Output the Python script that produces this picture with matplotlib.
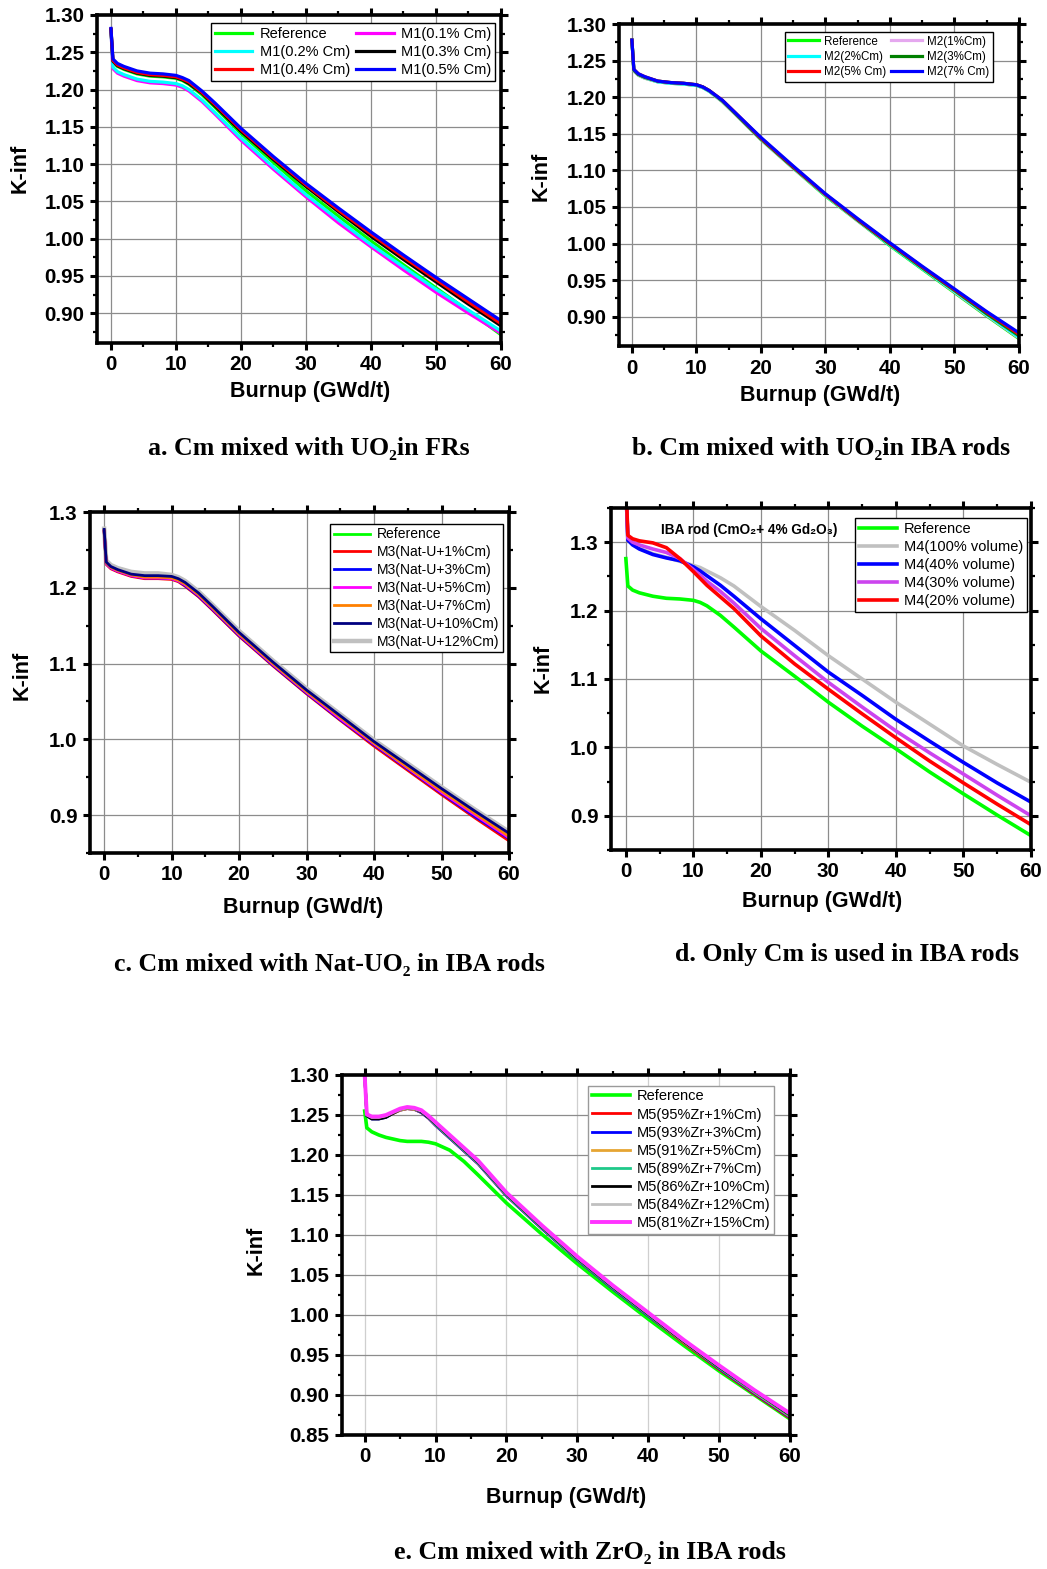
import matplotlib
matplotlib.use("Agg")
import matplotlib.pyplot as plt
from matplotlib.ticker import MultipleLocator, FormatStrFormatter

plt.rcParams['font.family'] = ['Liberation Sans', 'DejaVu Sans']

W, H = 1047, 1569

# ---------------- data ----------------
burnup = [0, 0.3, 1, 2, 4, 6, 8, 10, 11, 12, 14, 16, 20, 25, 30, 35, 40, 45, 50, 55, 60]

# a. Cm mixed with UO2 in FRs
a_labels = ["Reference", "M1(0.1% Cm)", "M1(0.2% Cm)", "M1(0.3% Cm)", "M1(0.4% Cm)", "M1(0.5% Cm)"]
a_ref = [1.280, 1.237, 1.231, 1.227, 1.221, 1.218, 1.217, 1.215, 1.212, 1.207, 1.193, 1.176, 1.141, 1.102, 1.064, 1.030, 0.997, 0.965, 0.934, 0.903, 0.871]
a_m1_01 = [1.279, 1.228, 1.222, 1.218, 1.212, 1.209, 1.208, 1.206, 1.203, 1.198, 1.184, 1.167, 1.132, 1.093, 1.056, 1.021, 0.989, 0.958, 0.928, 0.900, 0.873]
a_m1_02 = [1.279, 1.230, 1.224, 1.220, 1.214, 1.211, 1.210, 1.208, 1.205, 1.200, 1.186, 1.169, 1.135, 1.096, 1.059, 1.025, 0.992, 0.962, 0.932, 0.904, 0.876]
a_m1_03 = [1.281, 1.238, 1.232, 1.228, 1.222, 1.219, 1.218, 1.216, 1.213, 1.208, 1.195, 1.178, 1.144, 1.106, 1.070, 1.036, 1.003, 0.972, 0.942, 0.912, 0.883]
a_m1_04 = [1.281, 1.239, 1.233, 1.229, 1.223, 1.220, 1.219, 1.217, 1.214, 1.210, 1.196, 1.180, 1.146, 1.108, 1.072, 1.038, 1.006, 0.975, 0.945, 0.915, 0.886]
a_m1_05 = [1.282, 1.241, 1.235, 1.231, 1.225, 1.222, 1.221, 1.219, 1.216, 1.212, 1.198, 1.182, 1.148, 1.110, 1.074, 1.041, 1.009, 0.978, 0.948, 0.919, 0.890]

# b. Cm mixed with UO2 in IBA rods
b_labels = ["Reference", "M2(1%Cm)", "M2(2%Cm)", "M2(3%Cm)", "M2(5% Cm)", "M2(7% Cm)"]
b_ref = [1.278, 1.236, 1.230, 1.226, 1.221, 1.219, 1.218, 1.216, 1.213, 1.208, 1.194, 1.177, 1.142, 1.103, 1.065, 1.031, 0.997, 0.965, 0.933, 0.901, 0.870]
b_m2_1 = [1.278, 1.236, 1.230, 1.226, 1.221, 1.219, 1.218, 1.216, 1.213, 1.208, 1.194, 1.177, 1.142, 1.103, 1.066, 1.031, 0.998, 0.966, 0.934, 0.902, 0.871]
b_m2_2 = [1.278, 1.237, 1.231, 1.227, 1.221, 1.219, 1.218, 1.216, 1.213, 1.208, 1.195, 1.178, 1.143, 1.104, 1.066, 1.032, 0.998, 0.966, 0.935, 0.903, 0.872]
b_m2_3 = [1.278, 1.237, 1.231, 1.227, 1.222, 1.220, 1.219, 1.217, 1.214, 1.209, 1.195, 1.178, 1.143, 1.104, 1.067, 1.032, 0.999, 0.967, 0.936, 0.904, 0.874]
b_m2_5 = [1.278, 1.238, 1.232, 1.228, 1.222, 1.220, 1.219, 1.217, 1.214, 1.209, 1.196, 1.179, 1.144, 1.105, 1.067, 1.033, 1.000, 0.968, 0.937, 0.906, 0.876]
b_m2_7 = [1.278, 1.238, 1.232, 1.228, 1.222, 1.220, 1.219, 1.217, 1.214, 1.209, 1.196, 1.179, 1.145, 1.106, 1.068, 1.034, 1.001, 0.969, 0.938, 0.907, 0.878]

# c. Cm mixed with Nat-UO2 in IBA rods
c_labels = ["Reference", "M3(Nat-U+1%Cm)", "M3(Nat-U+3%Cm)", "M3(Nat-U+5%Cm)",
            "M3(Nat-U+7%Cm)", "M3(Nat-U+10%Cm)", "M3(Nat-U+12%Cm)"]
c_ref = [1.275, 1.232, 1.226, 1.222, 1.216, 1.213, 1.213, 1.212, 1.209, 1.203, 1.189, 1.172, 1.137, 1.098, 1.061, 1.026, 0.992, 0.960, 0.928, 0.897, 0.868]
c_m3_1 = [1.274, 1.231, 1.225, 1.221, 1.215, 1.212, 1.212, 1.211, 1.208, 1.202, 1.188, 1.171, 1.136, 1.097, 1.060, 1.025, 0.991, 0.959, 0.927, 0.896, 0.866]
c_m3_3 = [1.275, 1.232, 1.226, 1.222, 1.216, 1.213, 1.213, 1.212, 1.209, 1.203, 1.189, 1.172, 1.137, 1.098, 1.061, 1.026, 0.993, 0.961, 0.929, 0.898, 0.869]
c_m3_5 = [1.275, 1.232, 1.226, 1.222, 1.216, 1.213, 1.213, 1.212, 1.209, 1.204, 1.190, 1.173, 1.138, 1.099, 1.062, 1.027, 0.994, 0.962, 0.930, 0.900, 0.870]
c_m3_7 = [1.276, 1.233, 1.227, 1.223, 1.217, 1.214, 1.214, 1.213, 1.210, 1.205, 1.191, 1.174, 1.139, 1.100, 1.063, 1.029, 0.995, 0.963, 0.932, 0.902, 0.872]
c_m3_10 = [1.277, 1.234, 1.228, 1.224, 1.218, 1.216, 1.216, 1.215, 1.212, 1.207, 1.193, 1.176, 1.141, 1.102, 1.065, 1.031, 0.997, 0.966, 0.935, 0.905, 0.876]
c_m3_12 = [1.278, 1.236, 1.230, 1.226, 1.221, 1.219, 1.219, 1.217, 1.214, 1.209, 1.195, 1.178, 1.143, 1.104, 1.067, 1.033, 0.999, 0.968, 0.937, 0.907, 0.878]

# d. Only Cm is used in IBA rods
d_labels = ["Reference", "M4(100% volume)", "M4(40% volume)", "M4(30% volume)", "M4(20% volume)"]
d_ref = [1.276, 1.236, 1.230, 1.226, 1.221, 1.218, 1.217, 1.215, 1.212, 1.207, 1.193, 1.176, 1.141, 1.104, 1.066, 1.031, 0.998, 0.964, 0.932, 0.901, 0.871]
d_m4_100 = [1.380, 1.306, 1.298, 1.291, 1.283, 1.278, 1.272, 1.266, 1.263, 1.258, 1.248, 1.236, 1.206, 1.171, 1.134, 1.100, 1.066, 1.034, 1.002, 0.975, 0.949]
d_m4_40 = [1.380, 1.303, 1.296, 1.290, 1.282, 1.277, 1.273, 1.264, 1.258, 1.251, 1.237, 1.221, 1.188, 1.149, 1.110, 1.076, 1.041, 1.009, 0.978, 0.948, 0.920]
d_m4_30 = [1.380, 1.306, 1.300, 1.296, 1.290, 1.285, 1.276, 1.260, 1.252, 1.243, 1.228, 1.211, 1.174, 1.134, 1.095, 1.059, 1.024, 0.992, 0.961, 0.930, 0.900]
d_m4_20 = [1.390, 1.310, 1.305, 1.302, 1.299, 1.292, 1.276, 1.257, 1.247, 1.237, 1.220, 1.203, 1.163, 1.122, 1.085, 1.049, 1.014, 0.980, 0.948, 0.917, 0.887]

# e. Cm mixed with ZrO2 in IBA rods
burnup_e = [0, 0.3, 1, 2, 3, 4, 5, 6, 7, 8, 9, 10, 12, 14, 16, 20, 25, 30, 35, 40, 45, 50, 55, 60]
e_labels = ["Reference", "M5(95%Zr+1%Cm)", "M5(93%Zr+3%Cm)", "M5(91%Zr+5%Cm)", "M5(89%Zr+7%Cm)",
            "M5(86%Zr+10%Cm)", "M5(84%Zr+12%Cm)", "M5(81%Zr+15%Cm)"]
e_ref = [1.255, 1.234, 1.229, 1.225, 1.222, 1.220, 1.218, 1.217, 1.217, 1.217, 1.216, 1.214, 1.206, 1.192, 1.175, 1.140, 1.101, 1.064, 1.029, 0.995, 0.962, 0.930, 0.900, 0.870]
e_m5_1 = [1.300, 1.250, 1.246, 1.246, 1.248, 1.252, 1.256, 1.258, 1.257, 1.253, 1.246, 1.237, 1.221, 1.205, 1.189, 1.149, 1.108, 1.069, 1.033, 0.999, 0.965, 0.932, 0.901, 0.871]
e_m5_3 = [1.300, 1.249, 1.245, 1.245, 1.247, 1.252, 1.256, 1.258, 1.257, 1.253, 1.246, 1.237, 1.221, 1.205, 1.189, 1.149, 1.108, 1.069, 1.033, 0.999, 0.966, 0.933, 0.902, 0.872]
e_m5_5 = [1.300, 1.250, 1.246, 1.246, 1.248, 1.252, 1.256, 1.258, 1.257, 1.254, 1.247, 1.238, 1.222, 1.206, 1.190, 1.150, 1.109, 1.070, 1.034, 1.000, 0.966, 0.934, 0.903, 0.873]
e_m5_7 = [1.300, 1.250, 1.246, 1.246, 1.248, 1.253, 1.257, 1.259, 1.258, 1.254, 1.247, 1.238, 1.222, 1.206, 1.190, 1.150, 1.109, 1.070, 1.034, 1.000, 0.967, 0.934, 0.904, 0.874]
e_m5_10 = [1.300, 1.249, 1.245, 1.245, 1.247, 1.252, 1.257, 1.259, 1.258, 1.254, 1.247, 1.239, 1.223, 1.207, 1.191, 1.151, 1.110, 1.071, 1.035, 1.001, 0.967, 0.935, 0.905, 0.875]
e_m5_12 = [1.300, 1.250, 1.247, 1.247, 1.249, 1.253, 1.257, 1.259, 1.258, 1.255, 1.248, 1.240, 1.224, 1.208, 1.192, 1.152, 1.111, 1.072, 1.036, 1.002, 0.968, 0.936, 0.906, 0.876]
e_m5_15 = [1.300, 1.251, 1.248, 1.248, 1.250, 1.254, 1.258, 1.260, 1.259, 1.256, 1.249, 1.241, 1.225, 1.209, 1.193, 1.153, 1.112, 1.073, 1.037, 1.003, 0.969, 0.937, 0.906, 0.877]

captions = ["a. Cm mixed with UO\u2082in FRs", "b. Cm mixed with UO\u2082in IBA rods",
            "c. Cm mixed with Nat-UO\u2082 in IBA rods", "d. Only Cm is used in IBA rods",
            "e. Cm mixed with ZrO\u2082 in IBA rods"]


fig = plt.figure(figsize=(W / 100, H / 100), dpi=100)


def add_axes(left, top, right, bottom):
    """axes from pixel box"""
    return fig.add_axes([left / W, 1 - bottom / H, (right - left) / W, (bottom - top) / H])


def format_ax(ax, xlim, ylim, ystep, fmt, vgrid="#8c8c8c"):
    ax.set_xlim(*xlim)
    ax.set_ylim(*ylim)
    ax.xaxis.set_major_locator(MultipleLocator(10))
    ax.xaxis.set_minor_locator(MultipleLocator(5))
    ax.yaxis.set_major_locator(MultipleLocator(ystep))
    ax.yaxis.set_minor_locator(MultipleLocator(ystep / 2))
    ax.yaxis.set_major_formatter(FormatStrFormatter(fmt))
    ax.tick_params(which="major", direction="out", length=5, width=2.2,
                   top=True, right=True, labelsize=14.8, pad=4)
    ax.tick_params(which="minor", direction="out", length=3, width=1.6, top=True, right=True)
    for lab in ax.get_xticklabels() + ax.get_yticklabels():
        lab.set_fontweight("bold")
    ax.grid(True, axis="y", color="#8c8c8c", linewidth=0.9)
    ax.grid(True, axis="x", color=vgrid, linewidth=0.9)
    ax.set_axisbelow(True)
    for sp in ax.spines.values():
        sp.set_linewidth(2.6)


def labels(ylab_x, xlab_y, xlab_x, ylab_y):
    fig.text(xlab_x / W, 1 - xlab_y / H, "Burnup (GWd/t)", ha="center", va="center",
             fontsize=15.5, fontweight="bold")
    fig.text(ylab_x / W, 1 - ylab_y / H, "K-inf", ha="center", va="center", rotation=90,
             fontsize=15.5, fontweight="bold")


def legend(ax, handles, order, ncol, fontsize, loc, bbox, edge="black", pad=0.25):
    leg = ax.legend([handles[i] for i in order], [handles[i].get_label() for i in order],
                    ncol=ncol, fontsize=fontsize, loc=loc, bbox_to_anchor=bbox,
                    fancybox=False, framealpha=1, edgecolor=edge, borderaxespad=0,
                    handlelength=2.6, handletextpad=0.5, labelspacing=0.28,
                    borderpad=pad, columnspacing=0.4)
    leg.get_frame().set_linewidth(1.0)
    return leg


# ---------------- a ----------------
ax = add_axes(97, 15, 501, 343)
a_series = [a_ref, a_m1_01, a_m1_02, a_m1_03, a_m1_04, a_m1_05]
a_colors = ["#00ff00", "#ff00ff", "#00ffff", "black", "#ff0000", "#0000ff"]
hs = [ax.plot(burnup, s, color=c, lw=2.3, label=l)[0] for s, c, l in zip(a_series, a_colors, a_labels)]
format_ax(ax, (-2.15, 60), (0.86, 1.30), 0.05, "%.2f")
legend(ax, hs, [0, 2, 4, 1, 3, 5], 2, 10.5, "upper right", (0.985, 0.975))
labels(20, 392, 310, 168)

# ---------------- b ----------------
ax = add_axes(619, 24, 1019, 346)
b_series = [b_ref, b_m2_1, b_m2_2, b_m2_3, b_m2_5, b_m2_7]
b_colors = ["#00ff00", "#e5a8ef", "#00ffff", "#008000", "#ff0000", "#0000ff"]
hs = [ax.plot(burnup, s, color=c, lw=2.3, label=l)[0] for s, c, l in zip(b_series, b_colors, b_labels)]
format_ax(ax, (-2.0, 60), (0.86, 1.30), 0.05, "%.2f")
legend(ax, hs, [0, 2, 4, 1, 3, 5], 2, 8.4, "upper right", (0.935, 0.975), pad=0.3)
labels(541, 395, 820, 176)

# ---------------- c ----------------
ax = add_axes(90, 512, 509, 853)
c_series = [c_ref, c_m3_1, c_m3_3, c_m3_5, c_m3_7, c_m3_10, c_m3_12]
c_colors = ["#00ff00", "#ff0000", "#0000ff", "#ff00ff", "#ff8000", "#000080", "#c0c0c0"]
c_lw = [2.0, 2.0, 2.0, 2.0, 2.0, 2.0, 3.2]
hs = []
for s, c, l, w in zip(c_series, c_colors, c_labels, c_lw):
    hs.append(ax.plot(burnup, s, color=c, lw=w, label=l)[0])
ax.lines[-1].set_zorder(1.5)
format_ax(ax, (-2.1, 60), (0.85, 1.30), 0.1, "%.1f")
legend(ax, hs, range(7), 1, 10, "upper right", (0.985, 0.965))
labels(22, 908, 303, 675)

# ---------------- d ----------------
ax = add_axes(611, 508, 1031, 850)
d_series = [d_ref, d_m4_100, d_m4_40, d_m4_30, d_m4_20]
d_colors = ["#00ff00", "#c0c0c0", "#0000ff", "#cc44ee", "#ff0000"]
hs = [ax.plot(burnup, s, color=c, lw=2.6, label=l)[0] for s, c, l in zip(d_series, d_colors, d_labels)]
format_ax(ax, (-2.2, 60), (0.85, 1.35), 0.1, "%.1f")
legend(ax, hs, range(5), 1, 10.5, "upper right", (0.99, 0.97))
ax.text(0.12, 0.935, "IBA rod (CmO\u2082+ 4% Gd\u2082O\u2083)", transform=ax.transAxes,
        fontsize=9.8, fontweight="bold", va="center")
labels(543, 902, 822, 668)

# ---------------- e ----------------
ax = add_axes(342, 1075, 790, 1435)
e_series = [e_ref, e_m5_1, e_m5_3, e_m5_5, e_m5_7, e_m5_10, e_m5_12, e_m5_15]
e_colors = ["#00ff00", "#ff0000", "#0000ff", "#e6a532", "#1ec98a", "black", "#c0c0c0", "#ff33ff"]
e_lw = [2.6, 2.0, 2.0, 2.0, 2.0, 2.0, 2.0, 2.8]
hs = [ax.plot(burnup_e, s, color=c, lw=w, label=l)[0] for s, c, l, w in zip(e_series, e_colors, e_labels, e_lw)]
format_ax(ax, (-3.2, 60), (0.85, 1.30), 0.05, "%.2f", vgrid="#cfcfcf")
legend(ax, hs, range(8), 1, 10.5, "upper right", (0.965, 0.97), edge="#9a9a9a")
labels(256, 1497, 566, 1250)

# ---------------- captions ----------------
cap_pos = [(309, 449), (821, 449), (329, 965), (847, 955), (590, 1553)]
for text, (x, y) in zip(captions, cap_pos):
    fig.text(x / W, 1 - y / H, text, ha="center", va="center", fontsize=18.6,
             fontweight="bold", family=["Liberation Serif", "DejaVu Serif"])

fig.savefig("out.png", dpi=100)
